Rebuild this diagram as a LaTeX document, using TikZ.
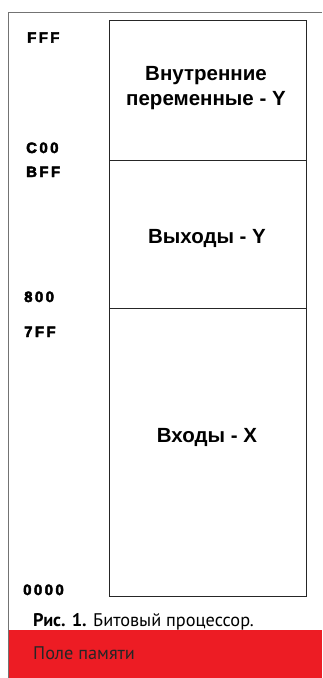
\documentclass[tikz,border=0pt]{standalone}
\usepackage{fontspec}
\setmainfont{Liberation Sans}
\newfontfamily\capfont{PT Sans}
\newfontfamily\hexfont[LetterSpace=16,FakeBold=3]{Liberation Sans Bold}
\definecolor{bandred}{HTML}{ED1C24}
\begin{document}
\begin{tikzpicture}[x=1pt,y=-1pt,
  frame/.style={draw=black!55,line width=0.9pt},
  boxline/.style={draw=black!85,line width=1pt},
  hexlbl/.style={anchor=base west,inner sep=0pt,font=\hexfont\fontsize{15}{16}\selectfont},
  arealbl/.style={align=center,inner sep=0pt,font=\fontsize{20.5}{25}\selectfont\bfseries},
  caplbl/.style={anchor=west,inner sep=0pt,font=\capfont\fontsize{18.3}{20}\selectfont}]
\useasboundingbox (0,0) rectangle (322,678);
\fill[white] (0,0) rectangle (322,678);
% red band
\fill[bandred] (8,630) rectangle (322,678);
% outer frame
\draw[frame] (322,12) -- (8,12) -- (8,678);
% memory box
\coordinate (tl) at (109,20);
\coordinate (br) at (306,596);
\draw[boxline] (tl) rectangle (br);
\coordinate (d1l) at (109,160); \coordinate (d1r) at (306,160);
\coordinate (d2l) at (109,308); \coordinate (d2r) at (306,308);
\draw[boxline] (d1l) -- (d1r);
\draw[boxline] (d2l) -- (d2r);
% area labels
\node[arealbl] (internal) at (206,88) {Внутренние\\переменные - Y};
\node[arealbl] (outputs) at (207,238) {Выходы - Y};
\node[arealbl] (inputs) at (207,437) {Входы - X};
% hex labels (baseline positions)
\node[hexlbl] (fff) at (27,42.7) {FFF};
\node[hexlbl] (c00) at (26,153) {C00};
\node[hexlbl] (bff) at (26,177) {BFF};
\node[hexlbl] (h800) at (24,302) {800};
\node[hexlbl] (h7ff) at (24,337) {7FF};
\node[hexlbl] (h0000) at (23,595) {0000};
% captions
\node[caplbl] (cap) at (33,622) {\textbf{Рис. 1.} Битовый процессор.};
\node[caplbl,text=black!85] (band) at (33,653) {Поле памяти};
\end{tikzpicture}
\end{document}
